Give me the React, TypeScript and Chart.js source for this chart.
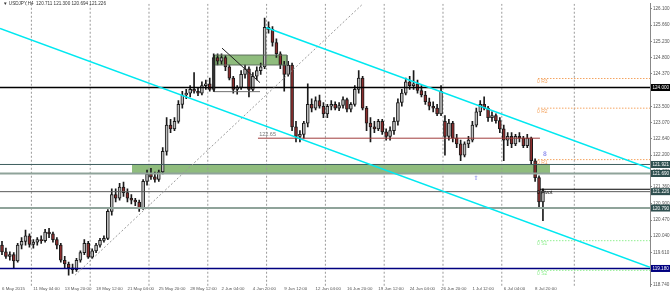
import React, { useEffect, useRef } from "react";
import { Chart, registerables } from "chart.js";
Chart.register(...registerables);

// ---- candle data (each candle ~ 8h) ----
const open = [
  119.80,119.62,119.50,119.55,119.38,119.80,119.90,120.05,119.82,119.88,
  119.95,119.92,120.15,120.10,119.95,119.80,119.40,119.30,119.20,119.15,
  119.40,119.60,119.85,119.48,119.65,119.80,119.93,119.98,120.70,121.15,
  121.05,121.35,121.20,121.05,121.00,120.95,120.80,121.50,121.70,121.62,
  121.55,121.75,122.30,123.00,122.90,123.10,123.55,123.80,123.85,123.95,
  123.90,123.85,124.05,124.10,123.95,124.80,124.70,124.80,124.55,124.25,
  123.95,124.00,124.35,124.50,123.95,124.30,124.45,124.55,125.60,125.55,
  125.20,124.90,124.60,124.35,124.60,122.95,122.70,122.75,123.05,123.55,
  123.45,123.65,123.50,123.30,123.50,123.55,123.45,123.52,123.68,123.42,
  123.55,123.95,124.25,123.45,123.05,122.95,122.90,123.10,122.82,122.70,
  122.85,123.10,123.60,123.85,124.15,124.05,124.10,123.92,123.80,123.62,
  123.50,123.45,123.30,123.10,122.70,123.05,122.65,122.50,122.20,122.50,
  122.60,123.00,123.35,123.55,123.45,123.20,123.25,123.12,122.90,122.60,
  122.70,122.50,122.70,122.65,122.45,122.65,122.05,121.60,120.95,
];
const high = [
  119.90,119.72,119.62,119.60,119.85,120.00,120.20,120.10,119.95,120.00,
  120.05,120.22,120.25,120.15,120.00,119.85,119.50,119.35,119.30,119.45,
  119.65,119.95,119.90,119.70,119.85,119.98,120.05,120.75,121.30,121.30,
  121.45,121.48,121.30,121.15,121.05,121.00,121.55,121.80,121.85,121.75,
  121.80,122.40,123.20,123.15,123.20,123.65,123.90,123.95,124.05,124.40,
  124.00,124.15,124.20,124.25,124.90,124.90,124.90,124.85,124.60,124.30,
  124.05,124.45,124.60,124.55,124.40,124.55,124.65,125.85,125.75,125.62,
  125.30,124.95,124.70,124.70,124.65,123.10,122.85,123.10,124.10,123.70,
  123.75,123.80,123.60,123.55,123.65,123.62,123.60,123.75,123.72,123.60,
  124.05,124.45,124.30,123.50,123.20,123.10,123.15,123.15,122.90,122.95,
  123.20,123.70,123.95,124.25,124.30,124.45,124.20,124.05,123.90,123.72,
  123.62,123.55,124.05,123.25,123.15,123.10,122.75,122.60,122.55,122.70,
  123.10,123.45,123.65,123.75,123.50,123.35,123.30,123.20,123.00,122.80,
  122.80,122.75,122.80,122.70,122.75,122.68,122.10,121.65,121.30,
];
const low = [
  119.55,119.45,119.40,119.18,119.35,119.70,119.80,119.75,119.72,119.80,
  119.85,119.88,120.00,119.88,119.70,119.35,119.20,119.00,119.05,119.10,
  119.35,119.55,119.45,119.45,119.60,119.75,119.88,119.95,120.60,120.95,
  121.00,121.10,120.95,120.90,120.85,120.70,120.75,121.40,121.55,121.48,
  121.50,121.70,122.20,122.80,122.85,123.05,123.45,123.70,123.75,123.85,
  123.78,123.80,123.95,123.90,123.90,124.60,124.62,124.45,124.20,123.85,
  123.82,123.95,124.25,123.75,123.90,124.20,124.35,124.50,125.45,125.10,
  124.80,124.50,123.90,124.30,122.85,122.55,122.55,122.65,122.95,123.35,
  123.40,123.45,123.20,123.20,123.40,123.40,123.38,123.45,123.35,123.35,
  123.50,123.85,123.40,122.85,122.55,122.80,122.85,122.75,122.60,122.60,
  122.75,123.00,123.50,123.80,123.95,123.95,123.85,123.75,123.55,123.40,
  123.35,123.25,123.25,122.20,122.60,122.55,122.40,122.05,122.15,122.40,
  122.55,122.95,123.25,123.40,123.10,123.10,123.05,122.80,122.05,122.45,
  122.40,122.45,122.55,122.40,122.40,121.95,121.50,120.80,120.45,
];
const close = [
  119.62,119.50,119.55,119.38,119.80,119.90,120.05,119.82,119.88,119.95,
  119.92,120.15,120.10,119.95,119.80,119.40,119.30,119.20,119.15,119.40,
  119.60,119.85,119.48,119.65,119.80,119.93,119.98,120.70,121.15,121.05,
  121.35,121.20,121.05,121.00,120.95,120.80,121.50,121.70,121.62,121.55,
  121.75,122.30,123.00,122.90,123.10,123.55,123.80,123.85,123.95,123.90,
  123.85,124.05,124.10,123.95,124.80,124.70,124.80,124.55,124.25,123.95,
  124.00,124.35,124.50,123.95,124.30,124.45,124.55,125.60,125.55,125.20,
  124.90,124.60,124.35,124.60,122.95,122.70,122.75,123.05,123.55,123.45,
  123.65,123.50,123.30,123.50,123.55,123.45,123.52,123.68,123.42,123.55,
  123.95,124.25,123.45,123.05,122.95,122.90,123.10,122.82,122.70,122.85,
  123.10,123.60,123.85,124.15,124.05,124.10,123.92,123.80,123.62,123.50,
  123.45,123.30,123.90,122.70,123.05,122.65,122.50,122.20,122.50,122.60,
  123.00,123.35,123.55,123.45,123.20,123.25,123.12,122.90,122.60,122.70,
  122.50,122.70,122.65,122.45,122.65,122.05,121.60,120.95,121.23,
];

// ---- axis labels ----
const timeLabels = [
  "6 May 2015","11 May 04:00","13 May 20:00","18 May 12:00","21 May 04:00","25 May 20:00",
  "28 May 12:00","2 Jun 04:00","4 Jun 20:00","9 Jun 12:00","12 Jun 04:00","16 Jun 20:00",
  "19 Jun 12:00","24 Jun 04:00","26 Jun 20:00","1 Jul 12:00","6 Jul 04:00","8 Jul 20:00",
];
const timeLabelIdx = [0,8,16,24,32,40,48,56,64,72,80,88,96,104,112,120,128,136];
const weekGridIdx = [7.5,22.5,37.5,52.5,67.5,82.5,97.5,112.5,127.5,146];
const priceTicks = [126.1,125.66,125.23,124.8,124.37,123.94,123.5,123.07,122.64,122.2,121.77,121.36,120.9,120.47,120.04,119.61,119.18,118.74];

// ---- objects drawn on the chart ----
const levelBlack = 124.0;
const levelRed = 122.65;
const redRange = [65.3, 137.24];
const bandTop = 121.95;
const bandBottom = 121.71;
const bandRange = [33.16, 139.8];
const levelBid = 121.226;
const levelSupport = 120.79;
const levelNavy = 119.18;
const boxTop = 124.865;
const boxBottom = 124.6;
const boxRange = [54.08, 72.7];
const pivotNames = ["R3", "R2", "R1", "Pivot", "S1", "S2"];
const pivotValues = [124.24, 123.45, 122.08, 121.29, 119.92, 119.13];
const pivotStart = 136.73;
const channelUpper = [[67.35, 125.6], [165.31, 121.84]];
const channelLower = [[-0.51, 125.574], [165.31, 119.212]];
const trendDotted = [[18.62, 119.0], [92.09, 126.231]];
const triVertical = [[54.08, 124.865], [54.08, 123.89]];
const triDiagonal = [[56.12, 125.05], [65.82, 124.13]];
const triBase = [[54.08, 123.89], [65.82, 123.89]];
const markerUp = [120.9, 121.58];
const markerEight = [138.5, 122.21];
const priceBoxes = [
  { v: 124.0, t: "124.000", c: "#000000" },
  { v: 121.95, t: "121.921", c: "#2f4f4f" },
  { v: 121.71, t: "121.690", c: "#2f4f4f" },
  { v: 121.226, t: "121.226", c: "#2f4f4f" },
  { v: 120.79, t: "120.790", c: "#2f4f4f" },
  { v: 119.18, t: "119.180", c: "#000080" },
];
const titleText = "\u25BC USDJPY,H4  120.711 121.300 120.694 121.226";

const X_MIN = -0.51, X_MAX = 165.31, Y_MIN = 118.713, Y_MAX = 126.231;
const FONT = '"Liberation Sans", Arial, sans-serif';

const pts = (arr: number[][]) => arr.map(([x, y]) => ({ x, y }));
const hl = (v: number, a = X_MIN, b = X_MAX) => [{ x: a, y: v }, { x: b, y: v }];

export default function App() {
  const ref = useRef<HTMLCanvasElement>(null);
  useEffect(() => {
    document.body.style.margin = "0";
    const canvas = ref.current!;
    const idx = open.map((_, i) => i);
    const isUp = idx.map((i) => close[i] >= open[i]);
    const line = (data: any[], color: string, width: number, dash: number[] = [], order = 10, extra: any = {}) => ({
      type: "line", data, borderColor: color, borderWidth: width, borderDash: dash,
      pointRadius: 0, pointHoverRadius: 0, fill: false, tension: 0, order, ...extra,
    });
    const gridData: any[] = [];
    weekGridIdx.forEach((g) => { gridData.push({ x: g, y: Y_MAX }, { x: g, y: Y_MIN }, { x: g, y: null }); });
    const pivotColors = ["#f4a460", "#f4a460", "#f4a460", "#000000", "#90ee90", "#90ee90"];

    const datasets: any[] = [
      line(hl(bandTop, bandRange[0], bandRange[1]), "rgba(0,0,0,0)", 0, [], 100, { fill: { value: bandBottom }, backgroundColor: "rgb(143,188,125)" }),
      line(hl(boxTop, boxRange[0], boxRange[1]), "rgba(0,0,0,0)", 0, [], 100, { fill: { value: boxBottom }, backgroundColor: "rgb(143,188,125)" }),
      line(gridData, "#9a9a9a", 1, [2, 2], 95),
      {
        type: "bar", label: "wick", order: 50, grouped: false, barThickness: 1,
        data: idx.map((i) => ({ x: i, y: [low[i], high[i]] })),
        backgroundColor: "#1a1a1a", borderWidth: 0,
      },
      {
        type: "bar", label: "body", order: 40, grouped: false, barThickness: 3, minBarLength: 1,
        data: idx.map((i) => ({ x: i, y: [open[i], close[i]] })),
        backgroundColor: idx.map((i) => (isUp[i] ? "#bdbdbd" : "#8b2e2e")),
        borderColor: "#1a1a1a", borderWidth: 1, borderSkipped: false,
      },
      line(pts([[boxRange[0], boxTop], [boxRange[1], boxTop], [boxRange[1], boxBottom], [boxRange[0], boxBottom], [boxRange[0], boxTop]]), "#5f6f5f", 1, [], 30),
      line(hl(levelBlack), "#000000", 1.5, [], 10),
      line(hl(bandTop), "#3e5e5e", 1, [], 12),
      line(hl(bandBottom), "#8fa39a", 2, [], 12),
      line(hl(levelBid), "#5a5a5a", 1, [], 12),
      line(hl(levelSupport), "#8fa39a", 2, [], 12),
      line(hl(levelNavy), "#000080", 1.5, [], 12),
      line(hl(levelRed, redRange[0], redRange[1]), "#a03c3c", 1, [], 11),
      ...pivotValues.map((v, k) =>
        line(hl(v, pivotNames[k] === "Pivot" ? pivotStart + 0.5 : pivotStart), pivotColors[k], pivotNames[k] === "Pivot" ? 1.2 : 1, pivotNames[k] === "Pivot" ? [] : [1.5, 1.5], 9)
      ),
      line(pts(channelUpper), "#00e8f0", 1.5, [], 8),
      line(pts(channelLower), "#00e8f0", 1.5, [], 8),
      line(pts(trendDotted), "#9a9a9a", 1, [2, 2], 8),
      line(pts(triVertical), "#202020", 1, [], 8),
      line(pts(triDiagonal), "#202020", 1, [], 8),
      line(pts(triBase), "#707070", 1, [], 8),
    ];

    const textPlugin = {
      id: "mtText",
      afterDraw(chart: any) {
        const { ctx } = chart;
        const xs = chart.scales.x, ys = chart.scales.y;
        ctx.save();
        ctx.textAlign = "left";
        ctx.textBaseline = "middle";
        ctx.font = `4.6px ${FONT}`;
        ctx.fillStyle = "#333";
        ctx.fillText(titleText, 3, 4);
        // red level label
        ctx.font = `5.5px ${FONT}`;
        ctx.fillStyle = "#777";
        ctx.textBaseline = "bottom";
        ctx.fillText(levelRed.toFixed(2), xs.getPixelForValue(redRange[0] + 0.3), ys.getPixelForValue(levelRed) - 1);
        // pivot labels
        ctx.font = `5px ${FONT}`;
        ctx.textBaseline = "top";
        pivotValues.forEach((v, k) => {
          ctx.fillStyle = pivotColors[k];
          ctx.fillText("0 " + pivotNames[k], xs.getPixelForValue(pivotStart - 0.25), ys.getPixelForValue(v) + 0.5);
        });
        // markers
        ctx.font = `6px "DejaVu Sans", sans-serif`;
        ctx.fillStyle = "#6f6fe8";
        ctx.textAlign = "center";
        ctx.textBaseline = "middle";
        ctx.fillText("\u21E7", xs.getPixelForValue(markerUp[0]), ys.getPixelForValue(markerUp[1]));
        ctx.fillText("8", xs.getPixelForValue(markerEight[0]), ys.getPixelForValue(markerEight[1]));
        // price boxes on axis
        ctx.font = `4.6px ${FONT}`;
        ctx.textAlign = "left";
        priceBoxes.forEach((b) => {
          const py = ys.getPixelForValue(b.v);
          ctx.fillStyle = b.c;
          ctx.fillRect(xs.right + 1, py - 3.5, 19, 7);
          ctx.fillStyle = "#ffffff";
          ctx.fillText(b.t, xs.right + 2.5, py + 0.3);
        });
        ctx.restore();
      },
    };

    const chart = new Chart(canvas, {
      type: "bar",
      data: { datasets },
      options: {
        animation: false,
        responsive: false,
        maintainAspectRatio: false,
        devicePixelRatio: 1,
        layout: { padding: 0 },
        events: [],
        plugins: { legend: { display: false }, tooltip: { enabled: false }, title: { display: false } },
        scales: {
          x: {
            type: "linear", min: X_MIN, max: X_MAX, offset: false,
            grid: { display: false, drawTicks: false, offset: false },
            border: { display: false },
            afterBuildTicks: (s: any) => { s.ticks = timeLabelIdx.map((v) => ({ value: v })); },
            afterFit: (s: any) => { s.height = 6; },
            ticks: {
              autoSkip: false, maxRotation: 0, minRotation: 0, align: "start", padding: 0,
              font: { size: 4.4, family: FONT }, color: "#555",
              callback: (_v: any, i: number) => timeLabels[i] ?? "",
            },
          },
          y: {
            type: "linear", position: "right", min: Y_MIN, max: Y_MAX, beginAtZero: false,
            afterBuildTicks: (s: any) => { s.ticks = priceTicks.map((v) => ({ value: v })); },
            afterFit: (s: any) => { s.width = 20; },
            grid: { drawOnChartArea: false, drawTicks: true, tickLength: 2, color: "#888" },
            border: { display: true, color: "#888" },
            ticks: {
              autoSkip: false, padding: 1, font: { size: 4.6, family: FONT }, color: "#555",
              callback: (v: any) => Number(v).toFixed(3),
            },
          },
        },
      } as any,
      plugins: [textPlugin],
    });
    return () => chart.destroy();
  }, []);
  return (
    <div style={{ width: 670, height: 292, background: "#fff" }}>
      <canvas ref={ref} width={670} height={292} style={{ display: "block" }} />
    </div>
  );
}
